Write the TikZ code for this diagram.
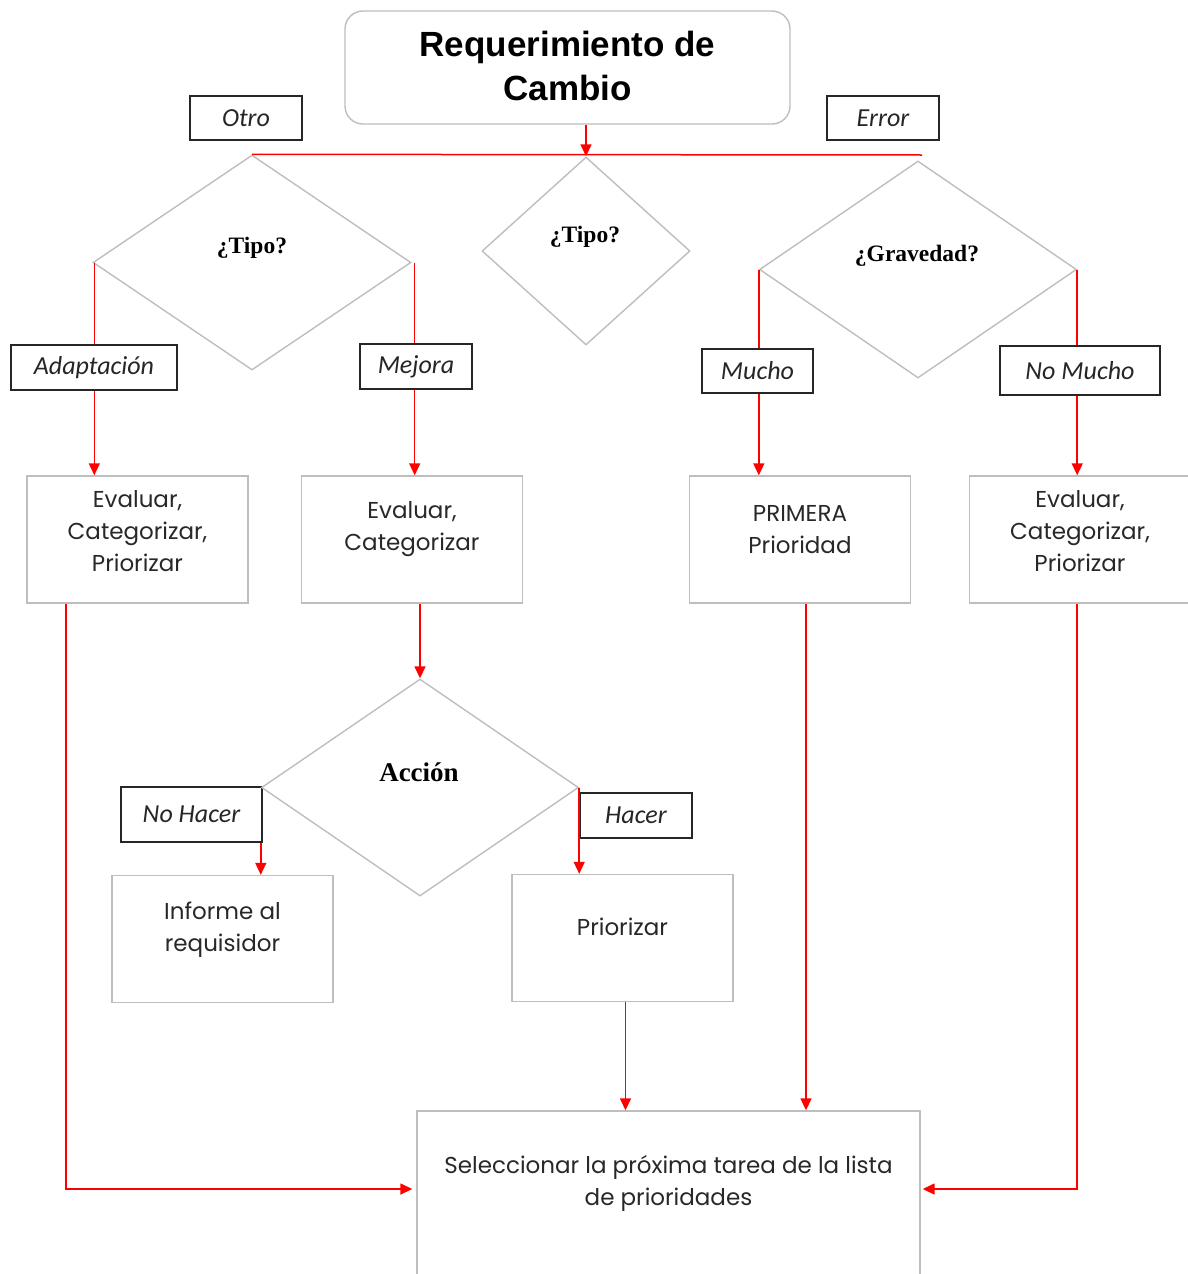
\documentclass[tikz,border=0pt]{standalone}
\usepackage{fontspec}
\setmainfont{Poppins}
\newfontfamily\titlefont{Liberation Sans}
\newfontfamily\lblfont{Carlito}
\newfontfamily\qfont{Liberation Serif}
\usetikzlibrary{shapes.geometric,arrows.meta}
\definecolor{boxgray}{RGB}{190,190,190}
\definecolor{lnred}{RGB}{255,0,0}
\definecolor{txt}{RGB}{40,40,40}
\begin{document}
\begin{tikzpicture}[x=1pt,y=-1pt,
  proc/.style={draw=boxgray, line width=1.4pt, inner sep=0pt, minimum width=221pt, minimum height=127pt},
  ptxt/.style={align=center, text=txt, font=\fontsize{23}{32}\selectfont, inner sep=0pt},
  lbl/.style={draw=black!85, line width=1.5pt, inner sep=0pt, font=\lblfont\itshape\fontsize{26}{30}\selectfont, text=black!85},
  dec/.style={diamond, draw=boxgray, line width=1.4pt, inner sep=0pt},
  qtxt/.style={font=\qfont\bfseries\fontsize{23.5}{28}\selectfont, inner sep=0pt},
  ln/.style={draw=lnred, line width=1.5pt},
  arr/.style={ln, -{Triangle[width=11pt,length=12pt]}}]
\fill[white] (0,0) rectangle (1187,1274);
\useasboundingbox (0,0) rectangle (1187,1274);

% title
\node[draw=boxgray, line width=1.4pt, rounded corners=18pt, minimum width=445pt, minimum height=113pt, inner sep=0pt] (title) at (567.5,67.5) {};
\node[align=center, font=\titlefont\bfseries\fontsize{35}{44}\selectfont, inner sep=0pt] (titlet) at (567.5,66) {Requerimiento de\\Cambio};

% labels
\node[lbl, minimum width=112pt, minimum height=44pt] (otro) at (246,118) {Otro};
\node[lbl, minimum width=112pt, minimum height=44pt] (error) at (883,118) {Error};
\node[lbl, minimum width=166pt, minimum height=45pt] (adap) at (94,367.5) {Adaptación};
\node[lbl, minimum width=112pt, minimum height=45pt] (mejora) at (416,366.5) {Mejora};
\node[lbl, minimum width=111pt, minimum height=44pt] (mucho) at (757.5,371) {Mucho};
\node[lbl, minimum width=160pt, minimum height=49pt] (nomucho) at (1080,370.5) {No Mucho};
\node[lbl, minimum width=141pt, minimum height=55pt] (nohacer) at (191.5,814.5) {No Hacer};
\node[lbl, minimum width=112pt, minimum height=45pt] (hacer) at (636,815.5) {Hacer};

% diamonds
\node[dec, minimum width=318pt, minimum height=215pt] (d1) at (252,262.5) {};
\node[qtxt] (d1t) at (252,248) {¿Tipo?};
\node[dec, minimum width=208pt, minimum height=188pt] (d2) at (586,251) {};
\node[qtxt] (d2t) at (585,237) {¿Tipo?};
\node[dec, minimum width=317pt, minimum height=217pt] (d3) at (918,269.5) {};
\node[qtxt] (d3t) at (917,256) {¿Gravedad?};
\node[dec, minimum width=317pt, minimum height=217pt] (d4) at (420,787.5) {};
\node[qtxt, font=\qfont\bfseries\fontsize{27}{30}\selectfont] (d4t) at (419,772) {Acción};

% process boxes
\node[proc] (boxA) at (137.5,539.5) {};
\node[ptxt] (boxAt) at (137.5,531) {Evaluar,\\Categorizar,\\Priorizar};
\node[proc] (boxB) at (412,539.5) {};
\node[ptxt] (boxBt) at (412,529.5) {Evaluar,\\Categorizar};
\node[proc] (boxC) at (800,539.5) {};
\node[ptxt] (boxCt) at (800,529.5) {PRIMERA\\Prioridad};
\node[proc] (boxD) at (1080,539.5) {};
\node[ptxt] (boxDt) at (1080,531) {Evaluar,\\Categorizar,\\Priorizar};
\node[proc] (inf) at (222.5,939) {};
\node[ptxt] (inft) at (222.5,929.5) {Informe al\\requisidor};
\node[proc] (prio) at (622.5,938) {};
\node[ptxt] (priot) at (622.5,927) {Priorizar};
\node[proc, minimum width=503pt, minimum height=178pt] (sel) at (668.5,1200) {};
\node[ptxt] (selt) at (668.5,1183.5) {Seleccionar la próxima tarea de la lista\\de prioridades};

% connectors
\coordinate (brR) at (922,155);
\draw[arr] (title.south -| d2.north) -- (d2.north);
\draw[ln] (d1.north) -- (brR);
\draw[ln] ([xshift=2pt]d1.west) -- ([xshift=2pt]d1.west |- adap.north);
\draw[arr] ([xshift=2pt]d1.west |- adap.south) -- ([xshift=2pt]d1.west |- boxA.north);
\draw[ln] ([xshift=3pt]d1.east) -- ([xshift=3pt]d1.east |- mejora.north);
\draw[arr] ([xshift=3pt]d1.east |- mejora.south) -- ([xshift=3pt]d1.east |- boxB.north);
\draw[ln] (d3.west) -- (d3.west |- mucho.north);
\draw[arr] (d3.west |- mucho.south) -- (d3.west |- boxC.north);
\draw[ln] (d3.east) -- (d3.east |- nomucho.north);
\draw[arr] (d3.east |- nomucho.south) -- (d3.east |- boxD.north);
\draw[arr] (d4.north |- boxB.south) -- (d4.north);
\draw[arr] (d4.west |- nohacer.south) -- (d4.west |- inf.north);
\draw[arr] (d4.east) -- (d4.east |- prio.north);
\draw[arr] ([xshift=3pt]prio.south) -- ([xshift=3pt]prio.south |- sel.north);
\draw[arr] ([xshift=6pt]boxC.south) -- ([xshift=6pt]boxC.south |- sel.north);
\draw[arr] ([xshift=-71.5pt]boxA.south) |- ([xshift=-4pt,yshift=11pt]sel.west);
\draw[arr] ([xshift=-3pt]boxD.south) |- ([xshift=2pt,yshift=11pt]sel.east);
\end{tikzpicture}
\end{document}
